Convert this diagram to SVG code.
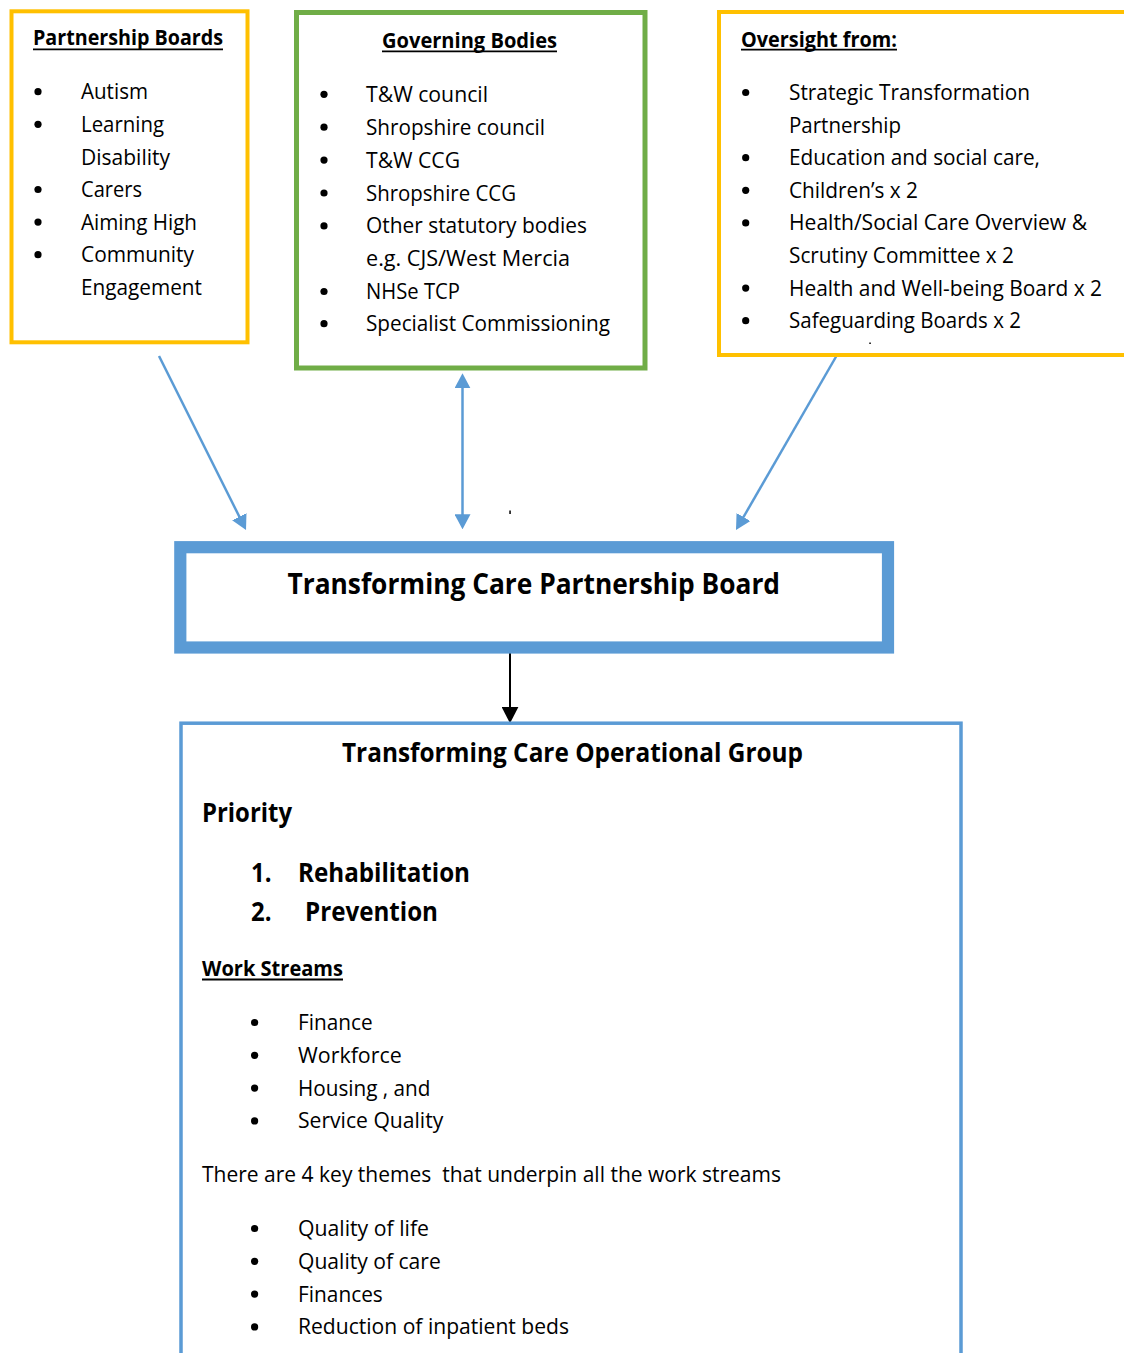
<svg xmlns="http://www.w3.org/2000/svg" width="1124" height="1353" viewBox="0 0 1124 1353">
<style>
  text { font-family: "Open Sans", "Liberation Sans", sans-serif; fill: #000; }
  .t { font-size: 21px; }
  .h { font-size: 21px; font-weight: bold; }
  .big { font-size: 27px; font-weight: bold; }
  .huge { font-size: 28px; font-weight: bold; }
  .ul { stroke: #000; stroke-width: 1.8; }
  .yel { fill: #fff; stroke: #FFC000; stroke-width: 4; }
  .grn { fill: #fff; stroke: #70AD47; stroke-width: 5; }
  .blu { fill: #fff; stroke: #5B9BD5; }
  .conn { stroke: #5B9BD5; stroke-width: 2.5; fill: none; }
  .connk { stroke: #000; stroke-width: 2; fill: none; }
  .bul { fill: #000; }
</style>
<defs>
  <marker id="ab" markerUnits="userSpaceOnUse" viewBox="0 0 15 16" markerWidth="15" markerHeight="16" refX="4" refY="8" orient="auto-start-reverse">
    <path d="M0,0 L15,8 L0,16 z" fill="#5B9BD5"/>
  </marker>
  <marker id="ak" markerUnits="userSpaceOnUse" viewBox="0 0 16.5 17" markerWidth="16.5" markerHeight="17" refX="4" refY="8.5" orient="auto">
    <path d="M0,0 L16.5,8.5 L0,17 z" fill="#000"/>
  </marker>
</defs>
<rect x="0" y="0" width="1124" height="1353" fill="#fff"/>

<g id="connectors">
  <line class="conn" x1="159" y1="356" x2="241.1" y2="520.2" marker-end="url(#ab)"/>
  <line class="conn" x1="462.5" y1="384.3" x2="462.5" y2="518.3" marker-start="url(#ab)" marker-end="url(#ab)"/>
  <line class="conn" x1="837" y1="355" x2="741.5" y2="520.5" marker-end="url(#ab)"/>
  <line class="connk" x1="510" y1="647" x2="510" y2="710.8" marker-end="url(#ak)"/>
  <rect x="509.3" y="510.5" width="1.5" height="3.5" fill="#000"/>
</g>

<g id="partnership-boards">
  <rect class="yel" x="11.5" y="11.3" width="236" height="331"/>
  <text class="h" x="33" y="45" textLength="190" lengthAdjust="spacingAndGlyphs">Partnership Boards</text>
  <line class="ul" x1="33" y1="49.3" x2="223" y2="49.3"/>
  <circle class="bul" cx="38" cy="91.7" r="3.6"/>
  <text class="t" x="81" y="99.3" textLength="67" lengthAdjust="spacingAndGlyphs">Autism</text>
  <circle class="bul" cx="38" cy="124.3" r="3.6"/>
  <text class="t" x="81" y="131.9" textLength="83" lengthAdjust="spacingAndGlyphs">Learning</text>
  <text class="t" x="81" y="164.5" textLength="89" lengthAdjust="spacingAndGlyphs">Disability</text>
  <circle class="bul" cx="38" cy="189.5" r="3.6"/>
  <text class="t" x="81" y="197.1" textLength="61" lengthAdjust="spacingAndGlyphs">Carers</text>
  <circle class="bul" cx="38" cy="222.1" r="3.6"/>
  <text class="t" x="81" y="229.7" textLength="116" lengthAdjust="spacingAndGlyphs">Aiming High</text>
  <circle class="bul" cx="38" cy="254.7" r="3.6"/>
  <text class="t" x="81" y="262.3" textLength="113" lengthAdjust="spacingAndGlyphs">Community</text>
  <text class="t" x="81" y="294.9" textLength="121" lengthAdjust="spacingAndGlyphs">Engagement</text>
</g>

<g id="governing-bodies">
  <rect class="grn" x="296.5" y="12.5" width="348.5" height="355.5"/>
  <text class="h" x="382" y="48.3" textLength="175" lengthAdjust="spacingAndGlyphs">Governing Bodies</text>
  <line class="ul" x1="382" y1="51.3" x2="557" y2="51.3"/>
  <circle class="bul" cx="324" cy="94.3" r="3.6"/>
  <text class="t" x="366" y="101.8" textLength="122" lengthAdjust="spacingAndGlyphs">T&amp;W council</text>
  <circle class="bul" cx="324" cy="127.2" r="3.6"/>
  <text class="t" x="366" y="134.7" textLength="179" lengthAdjust="spacingAndGlyphs">Shropshire council</text>
  <circle class="bul" cx="324" cy="160.1" r="3.6"/>
  <text class="t" x="366" y="167.6" textLength="94" lengthAdjust="spacingAndGlyphs">T&amp;W CCG</text>
  <circle class="bul" cx="324" cy="193" r="3.6"/>
  <text class="t" x="366" y="200.5" textLength="150" lengthAdjust="spacingAndGlyphs">Shropshire CCG</text>
  <circle class="bul" cx="324" cy="225.9" r="3.6"/>
  <text class="t" x="366" y="233.4" textLength="221" lengthAdjust="spacingAndGlyphs">Other statutory bodies</text>
  <text class="t" x="366" y="266.3" textLength="204" lengthAdjust="spacingAndGlyphs">e.g. CJS/West Mercia</text>
  <circle class="bul" cx="324" cy="291.5" r="3.6"/>
  <text class="t" x="366" y="299" textLength="94" lengthAdjust="spacingAndGlyphs">NHSe TCP</text>
  <circle class="bul" cx="324" cy="323.7" r="3.6"/>
  <text class="t" x="366" y="331.2" textLength="244" lengthAdjust="spacingAndGlyphs">Specialist Commissioning</text>
</g>

<g id="oversight">
  <rect class="yel" x="719" y="12" width="420" height="343"/>
  <text class="h" x="741" y="46.7" textLength="156" lengthAdjust="spacingAndGlyphs">Oversight from:</text>
  <line class="ul" x1="741" y1="49.6" x2="897" y2="49.6"/>
  <circle class="bul" cx="745.7" cy="92.5" r="3.6"/>
  <text class="t" x="789" y="100" textLength="241" lengthAdjust="spacingAndGlyphs">Strategic Transformation</text>
  <text class="t" x="789" y="132.6" textLength="112" lengthAdjust="spacingAndGlyphs">Partnership</text>
  <circle class="bul" cx="745.7" cy="157.7" r="3.6"/>
  <text class="t" x="789" y="165.2" textLength="251" lengthAdjust="spacingAndGlyphs">Education and social care,</text>
  <circle class="bul" cx="745.7" cy="190.3" r="3.6"/>
  <text class="t" x="789" y="197.8" textLength="129" lengthAdjust="spacingAndGlyphs">Children’s x 2</text>
  <circle class="bul" cx="745.7" cy="222.9" r="3.6"/>
  <text class="t" x="789" y="230.4" textLength="298" lengthAdjust="spacingAndGlyphs">Health/Social Care Overview &amp;</text>
  <text class="t" x="789" y="263" textLength="225" lengthAdjust="spacingAndGlyphs">Scrutiny Committee x 2</text>
  <circle class="bul" cx="745.7" cy="288.1" r="3.6"/>
  <text class="t" x="789" y="295.6" textLength="313" lengthAdjust="spacingAndGlyphs">Health and Well-being Board x 2</text>
  <circle class="bul" cx="745.7" cy="320.7" r="3.6"/>
  <text class="t" x="789" y="328.2" textLength="232" lengthAdjust="spacingAndGlyphs">Safeguarding Boards x 2</text>
  <rect x="869.3" y="342.5" width="1.5" height="1.5" fill="#000"/>
</g>

<g id="tcp-board">
  <rect class="blu" x="180.3" y="547.2" width="707.7" height="100.3" stroke-width="12.2"/>
  <text class="huge" x="287.5" y="594" textLength="492.5" lengthAdjust="spacingAndGlyphs">Transforming Care Partnership Board</text>
</g>

<g id="operational-group">
  <rect class="blu" x="181" y="723.2" width="780" height="700" stroke-width="3.5"/>
  <text class="big" x="342" y="761.7" textLength="461" lengthAdjust="spacingAndGlyphs">Transforming Care Operational Group</text>
  <text class="big" x="202" y="821.7" textLength="90" lengthAdjust="spacingAndGlyphs">Priority</text>
  <text class="big" x="251" y="881.7" textLength="20.5" lengthAdjust="spacingAndGlyphs">1.</text>
  <text class="big" x="298" y="881.7" textLength="172" lengthAdjust="spacingAndGlyphs">Rehabilitation</text>
  <text class="big" x="251" y="920.7" textLength="20.5" lengthAdjust="spacingAndGlyphs">2.</text>
  <text class="big" x="305" y="920.7" textLength="133" lengthAdjust="spacingAndGlyphs">Prevention</text>
  <text class="h" x="202" y="975.7" textLength="141" lengthAdjust="spacingAndGlyphs">Work Streams</text>
  <line class="ul" x1="202" y1="979.5" x2="343" y2="979.5"/>
  <circle class="bul" cx="254.6" cy="1022.5" r="3.6"/>
  <text class="t" x="298" y="1030" textLength="74.6" lengthAdjust="spacingAndGlyphs">Finance</text>
  <circle class="bul" cx="254.6" cy="1055.3" r="3.6"/>
  <text class="t" x="298" y="1062.8" textLength="103.8" lengthAdjust="spacingAndGlyphs">Workforce</text>
  <circle class="bul" cx="254.6" cy="1088.1" r="3.6"/>
  <text class="t" x="298" y="1095.6" textLength="132.5" lengthAdjust="spacingAndGlyphs">Housing , and</text>
  <circle class="bul" cx="254.6" cy="1120.9" r="3.6"/>
  <text class="t" x="298" y="1128.4" textLength="145.3" lengthAdjust="spacingAndGlyphs">Service Quality</text>
  <text class="t" x="202" y="1181.7" textLength="579" lengthAdjust="spacingAndGlyphs" xml:space="preserve" style="white-space:pre">There are 4 key themes  that underpin all the work streams</text>
  <circle class="bul" cx="254.6" cy="1228.5" r="3.6"/>
  <text class="t" x="298" y="1236" textLength="131" lengthAdjust="spacingAndGlyphs">Quality of life</text>
  <circle class="bul" cx="254.6" cy="1261.3" r="3.6"/>
  <text class="t" x="298" y="1268.8" textLength="142.8" lengthAdjust="spacingAndGlyphs">Quality of care</text>
  <circle class="bul" cx="254.6" cy="1294.1" r="3.6"/>
  <text class="t" x="298" y="1301.6" textLength="84.8" lengthAdjust="spacingAndGlyphs">Finances</text>
  <circle class="bul" cx="254.6" cy="1326.9" r="3.6"/>
  <text class="t" x="298" y="1334.4" textLength="271" lengthAdjust="spacingAndGlyphs">Reduction of inpatient beds</text>
</g>
</svg>
